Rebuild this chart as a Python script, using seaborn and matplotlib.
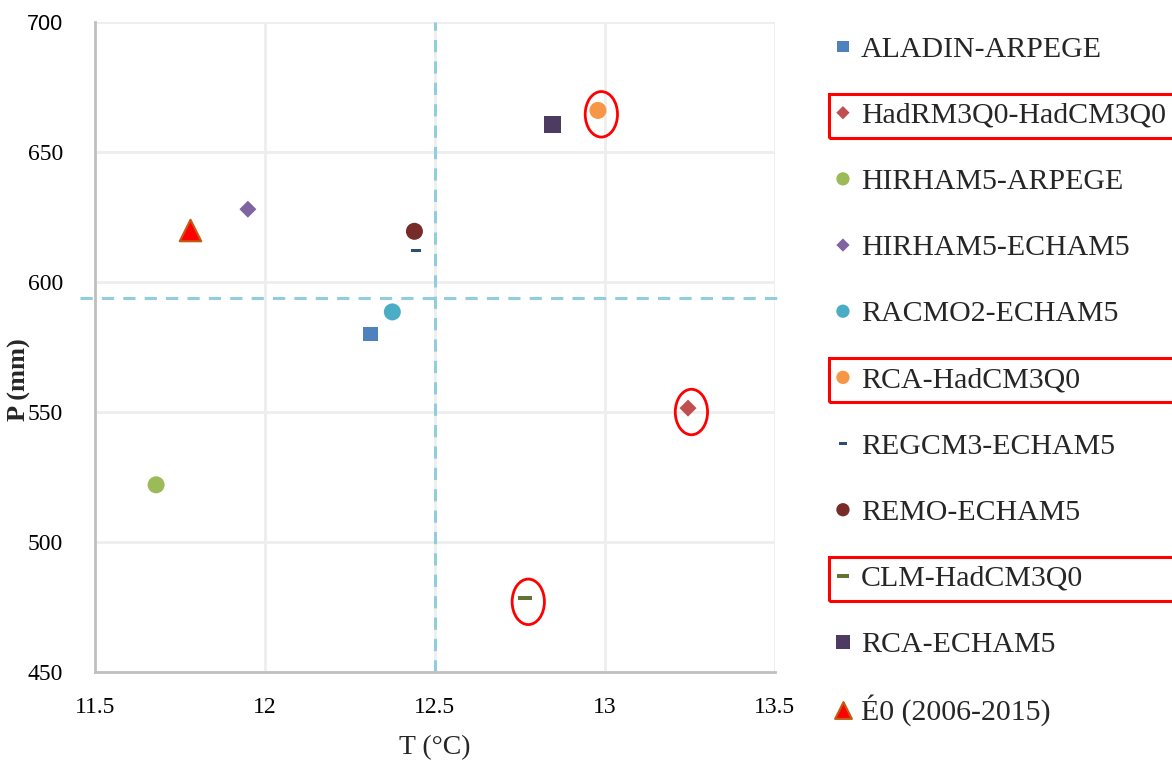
# -*- coding: utf-8 -*-
# T-P scatter of regional climate models
import matplotlib.pyplot as plt
import seaborn as sns
from matplotlib.patches import Ellipse, Rectangle
from matplotlib.ticker import FuncFormatter

models = ["ALADIN-ARPEGE", "HadRM3Q0-HadCM3Q0", "HIRHAM5-ARPEGE", "HIRHAM5-ECHAM5",
          "RACMO2-ECHAM5", "RCA-HadCM3Q0", "REGCM3-ECHAM5", "REMO-ECHAM5",
          "CLM-HadCM3Q0", "RCA-ECHAM5", "É0 (2006-2015)"]
temp = [12.31, 13.245, 11.68, 11.95, 12.375, 12.98, 12.445, 12.44, 12.765, 12.845, 11.78]
precip = [580, 551.5, 522, 628, 588.5, 666, 612, 619.5, 478.5, 660.5, 620]
highlighted = ["HadRM3Q0-HadCM3Q0", "RCA-HadCM3Q0", "CLM-HadCM3Q0"]
t_ref = 12.5
p_ref = 594

dash = [(-1, -0.32), (1, -0.32), (1, 0.32), (-1, 0.32), (-1, -0.32)]
colors = ["#4f81bd", "#c0504d", "#9bbb59", "#8064a2", "#4bacc6", "#f79646",
          "#2c4d75", "#772c2a", "#5f7530", "#4d3b62", "#ff0000"]
markers = ["s", "D", "o", "D", "o", "o", dash, "o", dash, "s", "^"]
sizes = [110, 75, 150, 75, 150, 150, 45, 150, 110, 150, 240]
edges = ["none"] * 10 + ["#c55a11"]

sns.set_theme(style="white")
plt.rcParams['font.family'] = ['Liberation Serif', 'DejaVu Serif']

fig = plt.figure(figsize=(11.72, 7.72), dpi=100)
ax = fig.add_axes([0.081, 0.1295, 0.58, 0.842])

for i, m in enumerate(models):
    sns.scatterplot(x=[temp[i]], y=[precip[i]], marker=markers[i], color=colors[i],
                    s=sizes[i], edgecolor=edges[i], linewidth=1.5 if i == 10 else 0,
                    label=m, ax=ax, zorder=3)

# reference dashed lines
ax.axvline(t_ref, color="#92cddc", lw=2.2, ls=(0, (4, 3)), zorder=2)
ax.axhline(p_ref, xmin=-0.022, xmax=1.005, color="#92cddc", lw=2.2, ls=(0, (4, 3)),
           clip_on=False, zorder=2)

# red ellipses around highlighted models
for m in highlighted:
    i = models.index(m)
    ax.add_patch(Ellipse((temp[i] + 0.01, precip[i] - 1.5), 0.095, 17.5, fill=False,
                         edgecolor="red", lw=2, zorder=4))

ax.set_xlim(11.5, 13.5)
ax.set_ylim(450, 700)
ax.set_xticks([11.5, 12, 12.5, 13, 13.5])
ax.set_yticks(range(450, 701, 50))
ax.xaxis.set_major_formatter(FuncFormatter(lambda v, p: f"{v:g}"))
ax.grid(True, color="#eeeeee", lw=2)
ax.set_axisbelow(True)
for s in ["top", "right"]:
    ax.spines[s].set_visible(False)
for s in ["left", "bottom"]:
    ax.spines[s].set_color("#c0c0c0")
    ax.spines[s].set_linewidth(2)
ax.tick_params(axis="both", labelsize=17, colors="black", length=0)
ax.tick_params(axis="x", pad=18)
ax.tick_params(axis="y", pad=23)
ax.set_xlabel("T (°C)", fontsize=20, labelpad=12)
ax.set_ylabel("P (mm)", fontsize=19, fontweight="bold")
ax.yaxis.set_label_coords(-0.094, 0.45)
for t in ax.get_yticklabels():
    if t.get_text() == "700":
        t.set_family("Liberation Sans")
        t.set_fontsize(15.5)

leg = ax.legend(loc="upper left", bbox_to_anchor=(0.7065, 0.9573), bbox_transform=fig.transFigure,
                frameon=False, fontsize=21.5, labelspacing=1.225, handletextpad=0.1,
                handlelength=1.0, handleheight=1.0, markerscale=0.78, borderaxespad=0,
                borderpad=0)

# red boxes around highlighted legend entries
fig.canvas.draw()
r = fig.canvas.get_renderer()
W, H = fig.get_size_inches() * fig.dpi
for t in leg.get_texts():
    if t.get_text() in highlighted:
        bb = t.get_window_extent(r)
        yc = (bb.y0 + bb.y1) / 2
        fig.add_artist(Rectangle(((bb.x0 - 32) / W, (yc - 22) / H), (W - bb.x0 + 40) / W, 44 / H,
                                 transform=fig.transFigure, fill=False, edgecolor="red",
                                 lw=2.2, clip_on=False))

plt.savefig("out.png", dpi=100)
